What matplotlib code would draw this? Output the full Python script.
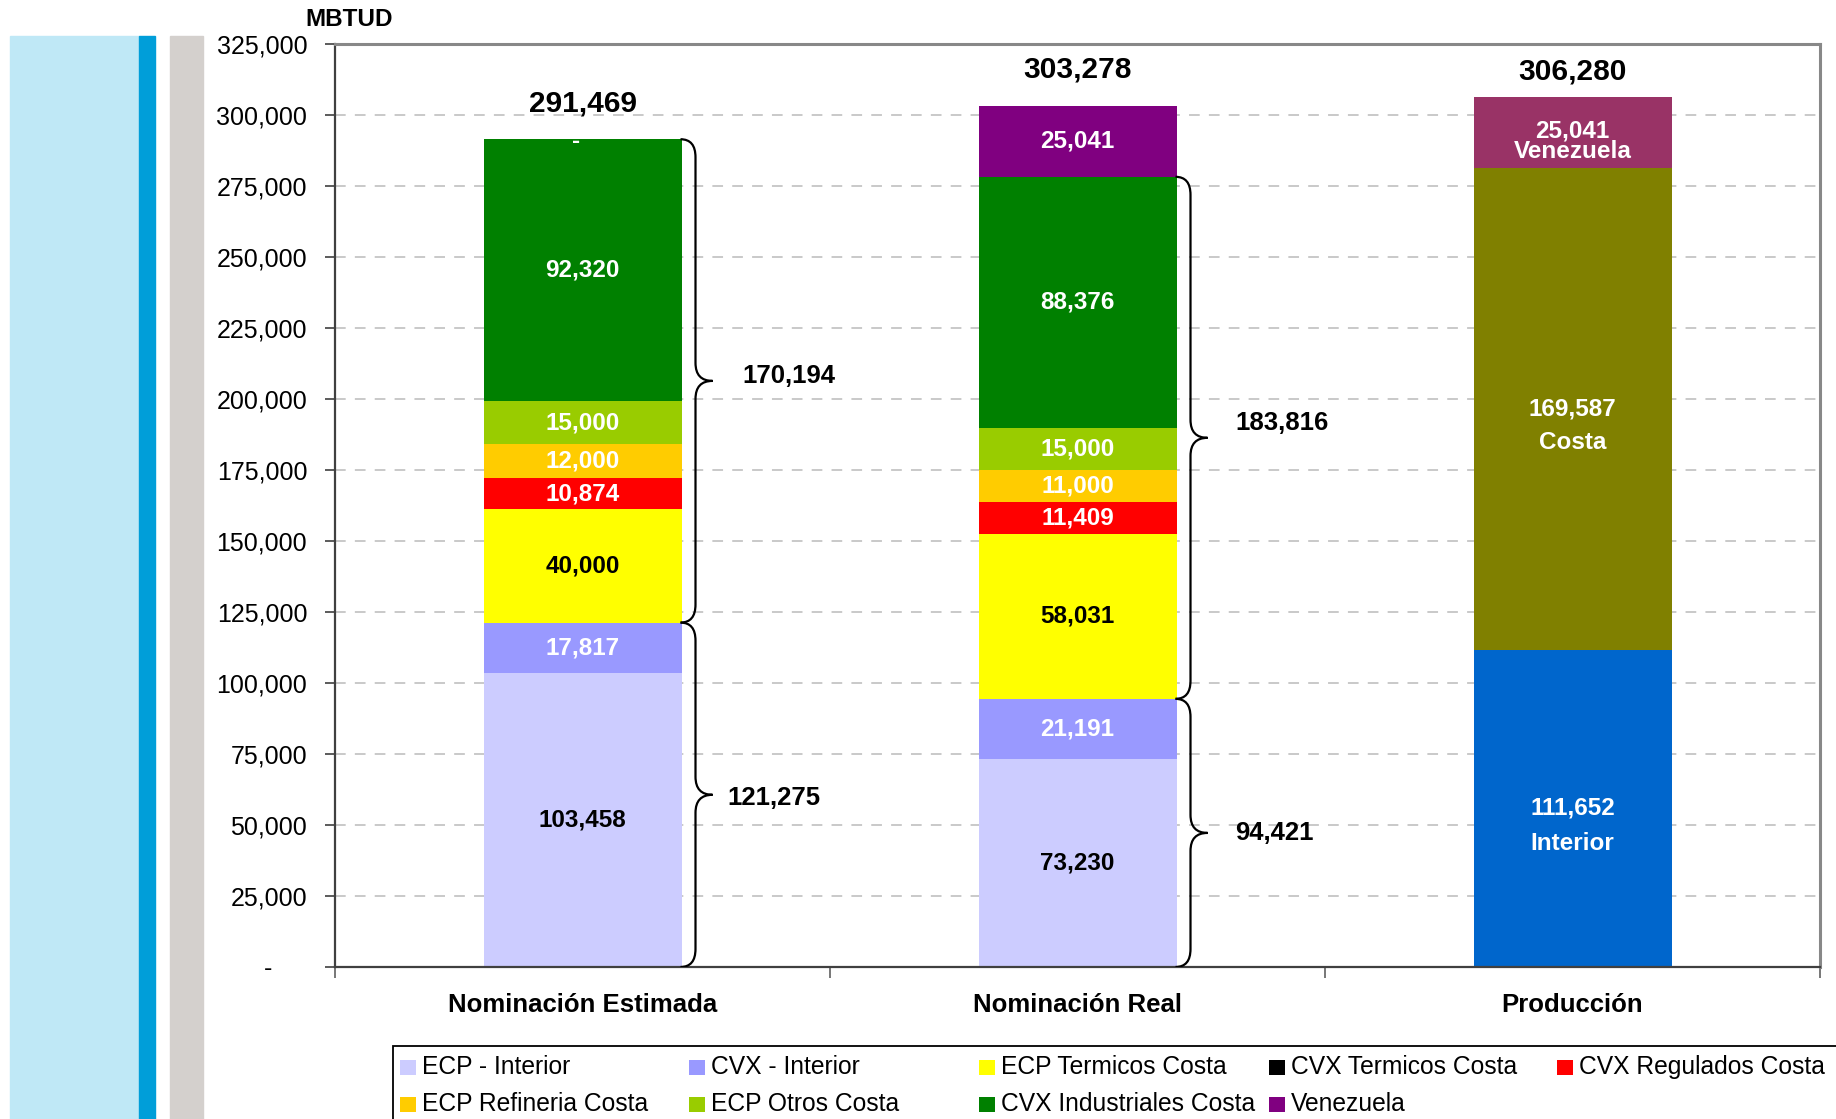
import matplotlib
matplotlib.use("Agg")
import matplotlib.pyplot as plt
from matplotlib.path import Path
from matplotlib.patches import PathPatch, Rectangle
import numpy as np

plt.rcParams['font.family'] = ['Liberation Sans', 'DejaVu Sans']

# ---------------- data ----------------
categories = ["Nominación Estimada", "Nominación Real", "Producción"]

series_names = ["ECP - Interior", "CVX - Interior", "ECP Termicos Costa",
                "CVX Termicos Costa", "CVX Regulados Costa", "ECP Refineria Costa",
                "ECP Otros Costa", "CVX Industriales Costa", "Venezuela"]
series_colors = ["#CCCCFF", "#9999FF", "#FFFF00", "#000000", "#FF0000",
                 "#FFCC00", "#99CC00", "#008000", "#800080"]
label_colors = ["black", "white", "black", "white", "white",
                "white", "white", "white", "white"]

# values for the two nomination bars
nom_estimada = [103458, 17817, 40000, 0, 10874, 12000, 15000, 92320, 0]
nom_real = [73230, 21191, 58031, 0, 11409, 11000, 15000, 88376, 25041]

# produccion bar
prod_names = ["Interior", "Costa", "Venezuela"]
prod_values = [111652, 169587, 25041]
prod_colors = ["#0066CC", "#808000", "#993366"]

totals = [291469, 303278, 306280]

# braces: (category index, low, high, label)
braces = [(0, 0, 121275, "121,275"), (0, 121275, 291469, "170,194"),
          (1, 0, 94421, "94,421"), (1, 94421, 278237, "183,816")]
brace_label_dx = [0.293, 0.323, 0.319, 0.319]
brace_label_dy_px = [-3, 5, 0, 15]

yticks = np.arange(0, 325001, 25000)

# ---------------- figure ----------------
W, H = 1836, 1119
fig = plt.figure(figsize=(W / 100, H / 100), dpi=100)

# decorative strips on left
for x0, x1, c in [(10, 139, "#BFE8F6"), (139, 155, "#009ED9"), (170, 203, "#D4D0CD")]:
    fig.patches.append(Rectangle((x0 / W, 0), (x1 - x0) / W, (H - 36) / H,
                                 transform=fig.transFigure, color=c, zorder=0))

ax_l, ax_r, ax_t, ax_b = 335, 1820, 44, 967
ax = fig.add_axes([ax_l / W, (H - ax_b) / H, (ax_r - ax_l) / W, (ax_b - ax_t) / H])
ax.set_xlim(-0.5, 2.5)
ax.set_ylim(0, 325000)

bar_w = 0.4
x = np.arange(len(categories))

# gridlines
for yv in yticks[1:-1]:
    ax.axhline(yv, color="#BBBBBB", lw=1.1, ls=(0, (7, 6)), zorder=0.5)

# nomination stacks
for ci, vals in enumerate([nom_estimada, nom_real]):
    bottom = 0
    for si, v in enumerate(vals):
        if v > 0:
            ax.bar(x[ci], v, bar_w, bottom=bottom, color=series_colors[si],
                   zorder=2, linewidth=0)
            ax.text(x[ci], bottom + v / 2, f"{v:,}", ha="center", va="center",
                    fontsize=17.5, fontweight="bold", color=label_colors[si], zorder=5)
        bottom += v

# zero Venezuela label on first bar (Excel "-")
ax.annotate("-", (x[0], sum(nom_estimada)), ha="center", va="center",
            fontsize=17.5, fontweight="bold", color="white", zorder=5,
            xytext=(-6, -2), textcoords="offset pixels")

# produccion stack
bottom = 0
name_off = [35, 33, 19]
val_off = [0, 0, 2]
for i, (n, v, c) in enumerate(zip(prod_names, prod_values, prod_colors)):
    ax.bar(x[2], v, bar_w, bottom=bottom, color=c, zorder=2, linewidth=0)
    ax.annotate(f"{v:,}", (x[2], bottom + v / 2), xytext=(0, val_off[i]),
                textcoords="offset pixels", ha="center", va="center",
                fontsize=17.5, fontweight="bold", color="white", zorder=5)
    ax.annotate(n, (x[2], bottom + v / 2), xytext=(0, -name_off[i]),
                textcoords="offset pixels", ha="center", va="center",
                fontsize=17.5, fontweight="bold", color="white", zorder=5)
    bottom += v

# totals
tot_off = [22, 22, 12]
for i, t in enumerate(totals):
    ax.annotate(f"{t:,}", (x[i], t), xytext=(0, tot_off[i]), textcoords="offset pixels",
                ha="center", va="bottom", fontsize=21.5, fontweight="bold", color="black")

# braces
px_x = 1.0 / 495.0
px_y = 325000 / 923.0
for (ci, lo, hi, lab), ldx, ldy in zip(braces, brace_label_dx, brace_label_dy_px):
    xe = x[ci] + bar_w / 2 - 1 * px_x
    xv = xe + 15 * px_x
    xt = xe + 32 * px_x
    r = 18 * px_y
    ym = (lo + hi) / 2
    verts = [(xe, hi), (xv, hi), (xv, hi - r),
             (xv, ym + r), (xv, ym), (xt, ym),
             (xv, ym), (xv, ym - r),
             (xv, lo + r), (xv, lo), (xe, lo)]
    codes = [Path.MOVETO, Path.CURVE3, Path.CURVE3,
             Path.LINETO, Path.CURVE3, Path.CURVE3,
             Path.CURVE3, Path.CURVE3,
             Path.LINETO, Path.CURVE3, Path.CURVE3]
    ax.add_patch(PathPatch(Path(verts, codes), fill=False, lw=1.6, color="black", zorder=4))
    ax.annotate(lab, (x[ci] + ldx, ym), xytext=(0, ldy), textcoords="offset pixels",
                ha="left", va="center", fontsize=18.5, fontweight="bold", color="black")

# axes styling
ax.set_yticks(yticks)
ax.set_yticklabels(["-     " if v == 0 else f"{v:,}" for v in yticks], fontsize=18)
ax.tick_params(axis="y", direction="out", length=7, width=1.2, color="#404040", pad=13)
ax.set_xticks([-0.5, 0.5, 1.5, 2.5])
ax.set_xticklabels([])
ax.tick_params(axis="x", which="major", direction="out", length=8, width=1.2, color="#606060")
ax.set_xticks(x, minor=True)
ax.set_xticklabels(categories, minor=True, fontsize=18.5, fontweight="bold")
ax.tick_params(axis="x", which="minor", length=0, pad=19)

for s in ["left", "bottom"]:
    ax.spines[s].set_color("#404040")
    ax.spines[s].set_linewidth(1.6)
for s in ["top", "right"]:
    ax.spines[s].set_color("#888888")
    ax.spines[s].set_linewidth(2.2)

fig.text(349 / W, 1 - 19 / H, "MBTUD", ha="center", va="center",
         fontsize=17.5, fontweight="bold")

# legend (manual, row-major order as in the reference)
fig.patches.append(Rectangle((393 / W, -0.05), (1900 - 393) / W, (H - 1046) / H + 0.05,
                             transform=fig.transFigure, fill=False, ec="black", lw=1.3))
col_x = [400, 689, 979, 1269, 1557]
row_y = [1067, 1104]
for i, (n, c) in enumerate(zip(series_names, series_colors)):
    r, cidx = divmod(i, 5)
    mx, my = col_x[cidx], row_y[r]
    fig.patches.append(Rectangle((mx / W, 1 - (my + 8) / H), 16 / W, 15 / H,
                                 transform=fig.transFigure, color=c, lw=0))
    fig.text((mx + 22) / W, 1 - my / H, n, ha="left", va="center", fontsize=17.7)

fig.savefig("out.png", dpi=100)
